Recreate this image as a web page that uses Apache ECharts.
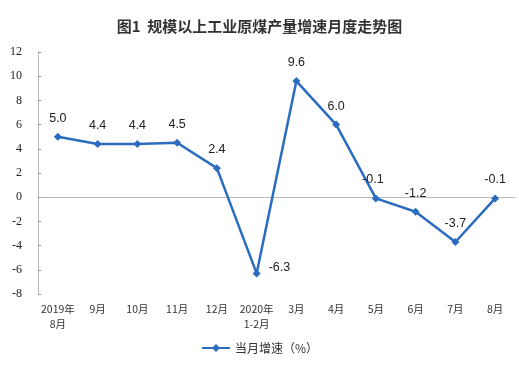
<!DOCTYPE html>
<html><head><meta charset="utf-8">
<script src="https://cdn.jsdelivr.net/npm/echarts@6/dist/echarts.min.js"></script>
<style>html,body{margin:0;padding:0;background:#fff}#c{width:519px;height:369px}</style>
</head><body><div id="c"></div>
<script>
const categories = ['2019年\n8月','9月','10月','11月','12月','2020年\n1-2月','3月','4月','5月','6月','7月','8月'];
const growth = [5.0, 4.4, 4.4, 4.5, 2.4, -6.3, 9.6, 6.0, -0.1, -1.2, -3.7, -0.1];
const seriesName = '当月增速（%）';
const titleText = '图1  规模以上工业原煤产量增速月度走势图';

const chart = echarts.init(document.getElementById('c'));
chart.setOption({
  animation: false,
  title: {text: titleText, left: 'center', top: 14,
    textStyle: {fontSize: 15, fontWeight: 'bold', color: '#333', fontFamily: 'Noto Sans CJK SC'}},
  grid: {left: 38, right: 4, top: 52, bottom: 75},
  legend: {bottom: 10, left: 'center', itemWidth: 28, itemHeight: 10, itemGap: 4,
    textStyle: {fontSize: 12, color: '#333', fontFamily: 'Noto Sans CJK SC'},
    data: [seriesName]},
  xAxis: {type: 'category', data: categories, boundaryGap: true,
    axisLine: {lineStyle: {color: '#bbb', width: 1}},
    axisTick: {inside: true, length: 3, lineStyle: {color: '#999'}},
    axisLabel: {fontSize: 10.5, color: '#333', lineHeight: 15, margin: 8, fontFamily: 'Noto Sans CJK SC', interval: 0}},
  yAxis: {type: 'value', min: -8, max: 12, interval: 2,
    axisLine: {show: true, lineStyle: {color: '#bbb', width: 1}},
    axisTick: {show: true, inside: true, length: 3, lineStyle: {color: '#999'}},
    splitLine: {show: false},
    axisLabel: {fontSize: 12, color: '#222', fontFamily: 'Liberation Serif', margin: 16}},
  series: [{name: seriesName, type: 'line', data: growth.map((v,i)=> i===5 ? {value: v, label: {position: 'right', offset:[0,-6]}} : (i===8 ? {value: v, label: {offset:[-3,0]}} : v)),
    symbol: 'diamond', symbolSize: 8,
    lineStyle: {color: '#2b6cc0', width: 2.5},
    itemStyle: {color: '#2b6cc0'},
    label: {show: true, position: 'top', distance: 8, fontSize: 12.5, color: '#222', fontFamily: 'Liberation Sans',
      formatter: p => p.value.toFixed(1)}}]
});
</script></body></html>
